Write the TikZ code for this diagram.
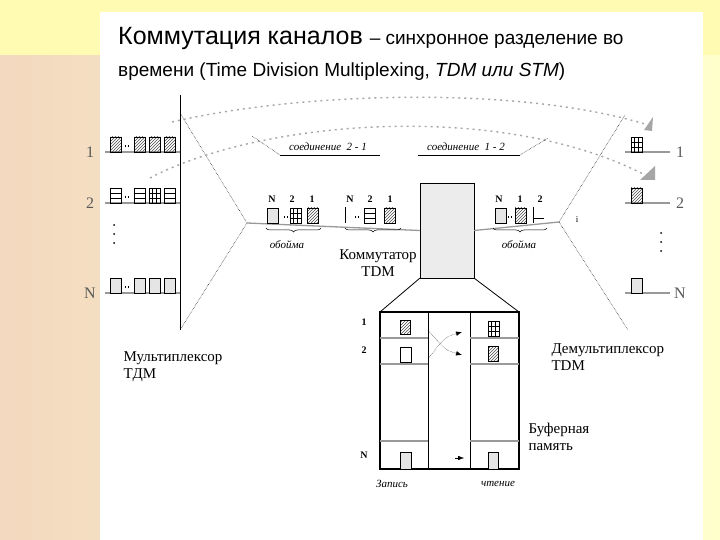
\documentclass[tikz,border=0pt]{standalone}
\usepackage{fontspec}
\setmainfont{Liberation Serif}
\newfontfamily\arfont{Liberation Sans}
\usetikzlibrary{patterns,arrows.meta,decorations.pathreplacing}
\tikzset{
 gl/.style={draw=gray!80,line width=1.3pt},
 cell/.style={draw=black,line width=0.6pt},
 hat/.style={cell,pattern=north east lines,pattern color=black!70},
 grey/.style={cell,fill=gray!20},
 thin/.style={draw=black,line width=0.5pt},
 dotc/.style={draw=gray!70,line width=1.4pt,dash pattern=on 2pt off 4pt},
 lab/.style={font=\fontsize{16}{16}\selectfont,text=gray!70!black},
 flab/.style={font=\bfseries\fontsize{10}{10}\selectfont},
 itl/.style={font=\itshape\fontsize{11}{11}\selectfont},
 big/.style={font=\fontsize{15}{17}\selectfont,align=left},
 br/.style={decorate,decoration={brace,amplitude=4pt,mirror},thin}
}
\newcommand{\hb}[2]{\draw[hat] (#1,#2) rectangle ++(11,-15);}
\newcommand{\gb}[2]{\draw[grey] (#1,#2) rectangle ++(11,-15);}
\newcommand{\grb}[2]{\draw[cell] (#1,#2) rectangle ++(11,-15); \draw[cell] (#1+3.7,#2)--++(0,-15) (#1+7.3,#2)--++(0,-15) (#1,#2-5)--++(11,0) (#1,#2-10)--++(11,0);}
\newcommand{\hz}[2]{\draw[cell] (#1,#2) rectangle ++(11,-15); \draw[cell] (#1,#2-5)--++(11,0) (#1,#2-10)--++(11,0);}
\newcommand{\dd}[2]{\fill (#1-2.5,#2-5) rectangle ++(1.6,-1.6); \fill (#1+0.5,#2-5) rectangle ++(1.6,-1.6);}
\newcommand{\vd}[2]{\foreach \k in {0,1,2} \fill (#1,#2+\k*9) circle (1pt);}
\begin{document}
\begin{tikzpicture}[x=1pt,y=-1pt]
\useasboundingbox (0,0) rectangle (720,540);
\fill[left color=orange!35!brown!30,right color=yellow!20] (0,0) rectangle (720,540);
\fill[yellow!30] (0,0) rectangle (720,55);
\fill[white] (100,12) rectangle (703,540);
% title
\node[anchor=base west,inner sep=0,font=\arfont\fontsize{25}{25}\selectfont] (t1) at (118,45) {Коммутация каналов {\fontsize{19}{19}\selectfont – синхронное разделение во}};
\node[anchor=base west,inner sep=0,font=\arfont\fontsize{19}{19}\selectfont] (t2) at (118,77) {времени (Time Division Multiplexing, \textit{TDM или STM})};
% multiplexer
\coordinate (mt) at (180,113); \coordinate (mb) at (180,330); \coordinate (ma) at (247,223);
\draw[thin,line width=0.8pt] (180,95)--(mb);
\draw[thin,densely dotted] (mt)--(ma)--(mb);
\node[lab] at (90,152) {1}; \node[lab] at (90,203) {2}; \node[lab] at (90,293) {N};
\draw[gl] (105,152)--(180,152); \draw[gl] (105,203)--(180,203); \draw[gl] (105,293)--(180,293);
\vd{114}{225}
\hb{110}{152}\dd{127}{152}\hb{134}{152}\hb{149}{152}\hb{164}{152}
\hz{110}{203}\dd{127}{203}\hz{134}{203}\grb{149}{203}\hz{164}{203}
\gb{110}{293}\dd{127}{293}\gb{134}{293}\gb{149}{293}\gb{164}{293}
% main line and switch
\node[draw,fill=gray!15,minimum width=54pt,minimum height=95pt,inner sep=0] (sw) at (447,230.5) {};
\draw[gl] (ma)--(sw.west); \coordinate (da) at (559,222); \draw[gl] (sw.east)--(da);
\node[big,align=center] at (378,263) {Коммутатор\\TDM};
% frames
\foreach \x/\a/\b/\c in {272/N/2/1,350/N/2/1} {\node[flab] at (\x,199) {\a}; \node[flab] at (\x+20,199) {\b}; \node[flab] at (\x+40,199) {\c};}
\gb{267}{223}\dd{286}{223}\grb{290}{223}\hb{307}{223}
\draw[cell] (345,223)--(345,207); \dd{357}{223}\hz{364}{223}\hb{384}{223}
\node[flab] at (499,199) {N}; \node[flab] at (520,199) {1}; \node[flab] at (540,199) {2};
\gb{495}{223}\dd{510}{223}\hb{515}{223}\draw[cell] (533,207)--(533,223) (533,218)--(544,218);
\draw[br] (266,228)--(321,228); \draw[br] (345,228)--(401,228); \draw[br] (493,228)--(547,228);
\node[itl] at (287,245) {обойма}; \node[itl] at (519,245) {обойма};
% demux
\draw[thin,densely dotted] (625,115)--(da)--(628,330);
\node[font=\fontsize{9}{9}\selectfont] at (577,220) {i};
\draw[gl] (625,152)--(670,152); \draw[gl] (625,203)--(670,203); \draw[gl] (625,293)--(670,293);
\node[lab] at (680,152) {1}; \node[lab] at (680,203) {2}; \node[lab] at (680,293) {N};
\vd{661}{233}
\grb{631}{152}\hb{631}{203}\gb{631}{293}
% connection curves
\draw[dotc] (172,122) .. controls (300,92) and (520,85) .. (648,125);
\draw[dotc] (150,178) .. controls (260,120) and (500,100) .. (645,175);
\fill[gray!70] (644,130)--(653,117)--(652,131)--cycle;
\fill[gray!70] (640,180)--(655,166)--(655,180)--cycle;
\node[itl,anchor=base] (c21) at (328,151) {соединение \ 2 - 1};
\draw[thin] (280,155)--(380,155); \draw[thin,densely dotted] (280,155)--(252,136);
\node[itl,anchor=base] (c12) at (466,151) {соединение \ 1 - 2};
\draw[thin] (418,155)--(520,155); \draw[thin,densely dotted] (520,155)--(548,138);
% buffer
\draw[thin,line width=0.8pt] (sw.south west)--(380,312) (sw.south east)--(519,312);
\draw[line width=1.2pt] (380,312) rectangle (519,469);
\draw[line width=0.8pt] (428,312)--(428,469) (470,312)--(470,469);
\foreach \y in {338,364,441} {\draw[gl] (380,\y)--(428,\y); \draw[gl] (470,\y)--(519,\y);}
\node[flab] at (364,322) {1}; \node[flab] at (364,350) {2}; \node[flab] at (364,455) {N};
\draw[hat] (400,320) rectangle (410,334);
\draw[cell] (400,347) rectangle (411,362);
\draw[grey] (400,452) rectangle (411,469);
\grb{488}{336}
\draw[hat] (488,346) rectangle (498,361);
\draw[grey] (488,452) rectangle (498,469);
\draw[densely dotted,-{Latex[length=6pt]}] (428,330) .. controls (445,350) .. (462,355);
\draw[densely dotted,-{Latex[length=6pt]}] (428,359) .. controls (445,337) .. (462,332);
\draw[-{Latex[length=6pt]}] (455,458)--(464,458);
\node[itl] at (392,484) {Запись}; \node[itl] at (498,484) {чтение};
\node[big,anchor=west] at (120,367) {Мультиплексор\\TДМ};
\node[big,anchor=west] at (548,357) {Демультиплексор\\TDM};
\node[big,anchor=west] at (525,437) {Буферная\\память};
\end{tikzpicture}
\end{document}
